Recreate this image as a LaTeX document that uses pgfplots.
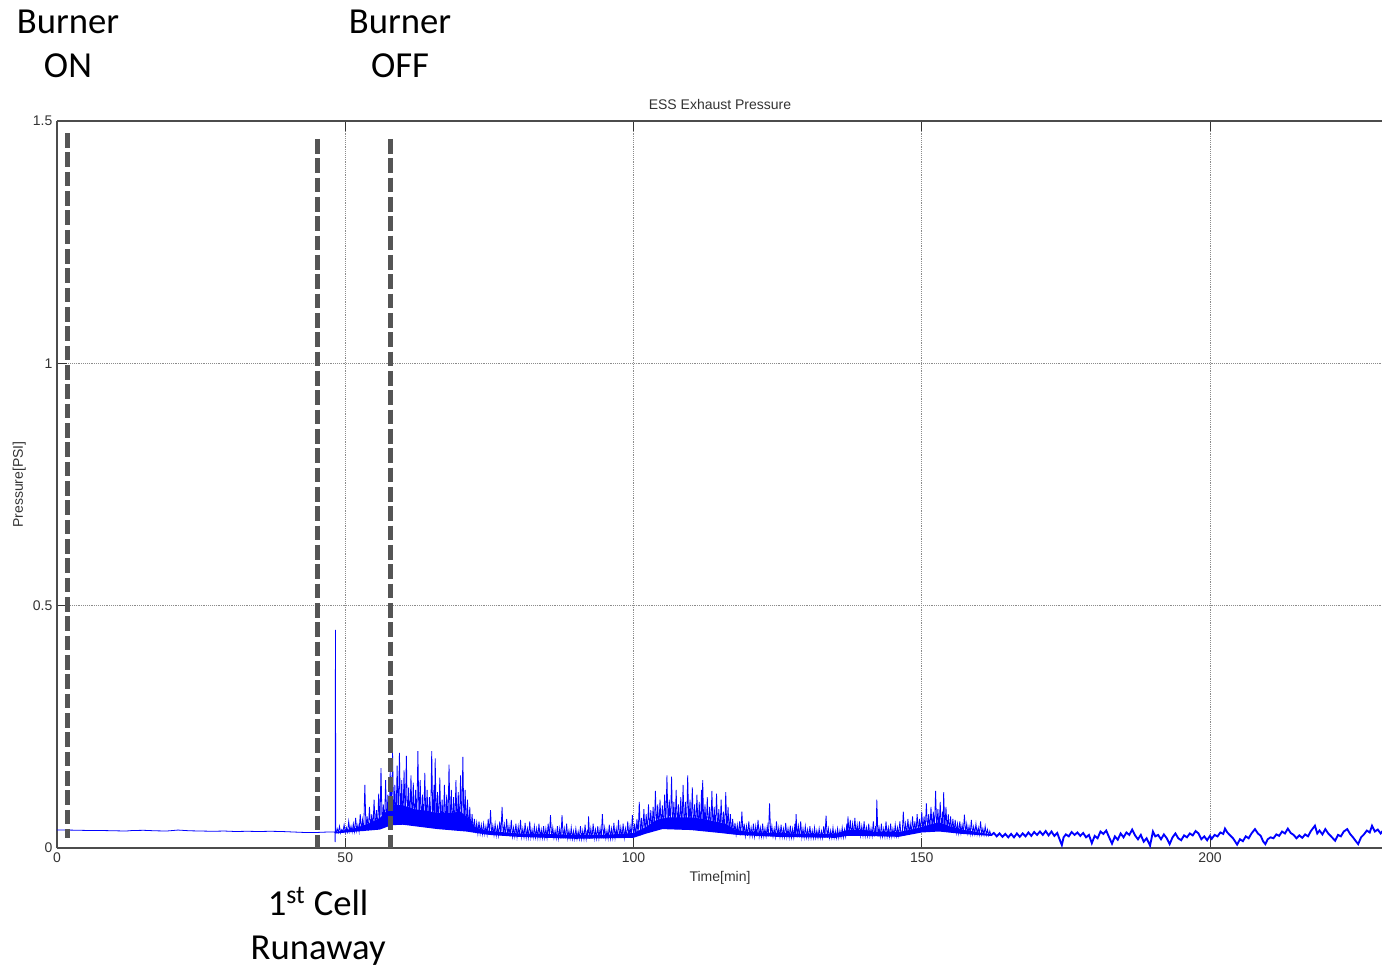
\documentclass[border=0pt]{standalone}
\usepackage{fontspec}
\setmainfont{Liberation Sans}
\newfontfamily\calibri{Carlito}
\usepackage{pgfplots}
\pgfplotsset{compat=1.18}
\definecolor{dashgray}{HTML}{555555}
\definecolor{labgray}{HTML}{333333}
\begin{document}
\begin{tikzpicture}
\useasboundingbox (-42.75pt,-90.75pt) rectangle (993.75pt,636pt);
\begin{axis}[
  scale only axis,
  width=994.47pt, height=545.25pt,
  xmin=0, xmax=230, ymin=0, ymax=1.5,
  xtick={0,50,100,150,200},
  ytick={0,0.5,1,1.5},
  axis x line*=box, axis y line*=left,
  axis line style={-, black!70, line width=0.8pt},
  tick align=inside,
  xtick pos=both, xticklabel pos=bottom,
  ytick pos=left,
  major tick length=7.5pt,
  tick style={black!80, line width=0.7pt},
  grid=major,
  grid style={densely dotted, black!45, line width=0.5pt},
  /pgf/number format/assume math mode=true,
  tick label style={font=\fontsize{10.5}{12}\selectfont, text=labgray},
  title={ESS Exhaust Pressure},
  title style={at={(axis description cs:0.5,1)}, anchor=center, yshift=6pt, font=\fontsize{10.5}{12}\selectfont, text=labgray},
  xlabel={Time[min]},
  xlabel style={at={(axis description cs:0.5,-0.0413)}, anchor=center, font=\fontsize{10.5}{12}\selectfont, text=labgray},
  ylabel={Pressure[PSI]},
  ylabel style={at={(axis description cs:-0.0285,0.5)}, anchor=center, rotate=0, font=\fontsize{10.5}{12}\selectfont, text=labgray},
  clip=false,
]
% baseline and first spike
\addplot[blue, line width=0.6pt] table {
x y
0 0.037
2 0.037
4 0.0365
6 0.036
8 0.036
10 0.0355
12 0.035
13 0.036
15 0.0365
17 0.0355
19 0.035
21 0.037
23 0.0355
25 0.035
27 0.0345
29 0.035
31 0.034
33 0.0345
35 0.034
37 0.0345
39 0.034
41 0.033
43 0.032
45 0.032
47 0.033
48.2 0.033
48.25 0.012
48.3 0.45
48.35 0.031
48.4 0.031
};
% dense core
\addplot[fill=blue, draw=none] coordinates {
(48.4,0.033)(50,0.037)(52,0.042)(54,0.05)(56,0.062)(57.5,0.08)(58.5,0.09)(60,0.088)(62,0.08)(64,0.077)(66,0.072)(68,0.072)(70,0.075)(71.5,0.06)(72.5,0.043)(74,0.037)(76,0.034)(80,0.03)(85,0.029)(90,0.027)(95,0.027)(100,0.031)(102,0.042)(104,0.058)(106,0.063)(108,0.063)(110,0.063)(112,0.06)(114,0.055)(116,0.05)(117.5,0.038)(120,0.033)(125,0.031)(130,0.029)(135,0.029)(137,0.037)(140,0.037)(142,0.033)(146,0.033)(149,0.04)(151,0.047)(153,0.053)(155,0.044)(157,0.038)(160,0.032)(162,0.028)
(162,0.025)(157,0.029)(153,0.034)(150,0.032)(146,0.023)(140,0.025)(137,0.025)(135,0.021)(125,0.023)(118,0.027)(115,0.031)(110,0.037)(105,0.039)(102,0.029)(100,0.021)(90,0.019)(80,0.023)(75,0.027)(71,0.034)(66,0.039)(60,0.048)(58,0.047)(56,0.038)(52,0.034)(48.4,0.03)
} -- cycle;
% noisy spikes
\addplot[blue, line width=0.6pt] table {
x y
48.4 0.031
48.6 0.040
48.8 0.032
49.0 0.045
49.2 0.031
49.4 0.038
49.6 0.033
49.8 0.048
50.0 0.032
50.2 0.042
50.4 0.033
50.6 0.055
50.8 0.034
51.0 0.045
51.2 0.033
51.4 0.05
51.6 0.034
51.8 0.062
52.0 0.035
52.2 0.048
52.4 0.034
52.6 0.07
52.8 0.036
53.0 0.058
53.2 0.035
53.4 0.13
53.6 0.037
53.8 0.065
54.0 0.036
54.2 0.085
54.4 0.038
54.6 0.07
54.8 0.037
55.0 0.1
55.2 0.039
55.4 0.078
55.6 0.04
55.8 0.112
56.0 0.04
56.2 0.165
56.4 0.042
56.6 0.09
56.8 0.043
57.0 0.14
57.2 0.045
57.4 0.11
57.6 0.046
57.8 0.16
58.0 0.048
58.2 0.2
58.4 0.05
58.6 0.13
58.8 0.05
59.0 0.17
59.2 0.052
59.4 0.196
59.6 0.05
59.8 0.14
60.0 0.05
60.2 0.16
60.4 0.049
60.6 0.19
60.8 0.048
61.0 0.125
61.2 0.048
61.4 0.15
61.6 0.047
61.8 0.135
62.0 0.046
62.2 0.12
62.4 0.046
62.6 0.2
62.8 0.045
63.0 0.14
63.2 0.044
63.4 0.11
63.6 0.044
63.8 0.155
64.0 0.043
64.2 0.12
64.4 0.042
64.6 0.105
64.8 0.042
65.0 0.2
65.2 0.041
65.4 0.13
65.5 0.06
65.6 0.185
65.8 0.041
66.0 0.115
66.2 0.04
66.4 0.145
66.6 0.04
66.8 0.1
67.0 0.039
67.2 0.13
67.4 0.039
67.6 0.11
67.8 0.038
68.0 0.172
68.2 0.038
68.4 0.12
68.6 0.037
68.8 0.105
69.0 0.037
69.2 0.14
69.4 0.036
69.6 0.115
69.8 0.036
70.0 0.15
70.2 0.036
70.4 0.188
70.6 0.035
70.8 0.12
71.0 0.035
71.2 0.1
71.4 0.034
71.6 0.085
71.8 0.033
72.0 0.07
72.2 0.032
72.4 0.06
72.6 0.031
72.8 0.052
73.0 0.03
73.2 0.055
73.4 0.03
73.6 0.048
73.8 0.029
74.0 0.05
74.2 0.029
74.4 0.045
74.6 0.028
74.8 0.06
75.0 0.028
75.2 0.078
75.4 0.027
75.6 0.046
75.8 0.027
76.0 0.05
76.2 0.026
76.4 0.044
76.6 0.026
76.8 0.055
77.0 0.026
77.2 0.085
77.4 0.025
77.6 0.048
77.8 0.025
78.0 0.06
78.2 0.025
78.4 0.045
78.6 0.024
78.8 0.058
79.0 0.024
79.2 0.042
79.4 0.024
79.6 0.05
79.8 0.023
80.0 0.044
80.2 0.023
80.4 0.058
80.6 0.023
80.8 0.04
81.0 0.023
81.2 0.052
81.4 0.022
81.6 0.04
81.8 0.022
82.0 0.055
82.2 0.022
82.4 0.038
82.6 0.022
82.8 0.045
83.0 0.022
83.2 0.04
83.4 0.021
83.6 0.05
83.8 0.021
84.0 0.038
84.2 0.021
84.4 0.045
84.6 0.021
84.8 0.04
85.0 0.021
85.2 0.05
85.4 0.021
85.6 0.068
85.8 0.021
86.0 0.042
86.2 0.021
86.4 0.036
86.6 0.02
86.8 0.045
87.0 0.02
87.2 0.04
87.4 0.02
87.6 0.068
87.8 0.02
88.0 0.04
88.2 0.02
88.4 0.05
88.6 0.02
88.8 0.036
89.0 0.02
89.2 0.042
89.4 0.019
89.6 0.035
89.8 0.019
90.0 0.04
90.2 0.019
90.4 0.034
90.6 0.019
90.8 0.045
91.0 0.019
91.2 0.036
91.4 0.019
91.6 0.048
91.8 0.019
92.0 0.038
92.1 0.02
92.2 0.065
92.4 0.019
92.6 0.04
92.8 0.02
93.0 0.05
93.2 0.02
93.4 0.038
93.6 0.02
93.8 0.045
94.0 0.02
94.2 0.04
94.4 0.02
94.6 0.07
94.8 0.02
95.0 0.042
95.2 0.02
95.4 0.036
95.6 0.02
95.8 0.048
96.0 0.02
96.2 0.04
96.4 0.021
96.6 0.052
96.8 0.021
97.0 0.04
97.2 0.021
97.4 0.058
97.6 0.021
97.8 0.042
98.0 0.021
98.2 0.05
98.4 0.021
98.6 0.04
98.8 0.021
99.0 0.055
99.2 0.022
99.4 0.045
99.6 0.022
99.8 0.068
100.0 0.022
100.2 0.05
100.4 0.024
100.6 0.06
100.8 0.025
101.0 0.095
101.2 0.026
101.4 0.062
101.6 0.028
101.8 0.08
102.0 0.03
102.2 0.07
102.4 0.032
102.6 0.09
102.8 0.034
103.0 0.078
103.2 0.035
103.4 0.085
103.6 0.036
103.8 0.118
104.0 0.037
104.2 0.09
104.4 0.038
104.6 0.1
104.8 0.039
105.0 0.088
105.2 0.04
105.4 0.11
105.6 0.04
105.8 0.15
106.0 0.04
106.2 0.1
106.4 0.04
106.6 0.147
106.8 0.04
107.0 0.095
107.2 0.04
107.4 0.12
107.6 0.039
107.8 0.09
108.0 0.039
108.2 0.105
108.4 0.039
108.6 0.13
108.8 0.038
109.0 0.095
109.2 0.038
109.4 0.15
109.6 0.038
109.8 0.1
110.0 0.038
110.2 0.125
110.4 0.037
110.6 0.09
110.8 0.037
111.0 0.11
111.2 0.036
111.4 0.095
111.6 0.036
111.8 0.12
111.9 0.05
112.0 0.14
112.2 0.035
112.4 0.09
112.6 0.035
112.8 0.105
113.0 0.034
113.2 0.085
113.4 0.034
113.6 0.118
113.8 0.033
114.0 0.085
114.2 0.033
114.4 0.112
114.6 0.032
114.8 0.08
115.0 0.032
115.2 0.1
115.4 0.031
115.6 0.075
115.8 0.031
116.0 0.115
116.2 0.03
116.4 0.085
116.6 0.03
116.8 0.07
117.0 0.029
117.2 0.06
117.4 0.028
117.6 0.052
117.8 0.028
118.0 0.048
118.2 0.027
118.4 0.055
118.6 0.026
118.8 0.075
119.0 0.026
119.2 0.05
119.4 0.025
119.6 0.045
119.8 0.025
120.0 0.055
120.2 0.025
120.4 0.042
120.6 0.025
120.8 0.05
121.0 0.024
121.2 0.045
121.4 0.024
121.6 0.058
121.8 0.024
122.0 0.042
122.2 0.024
122.4 0.05
122.6 0.024
122.8 0.04
123.0 0.024
123.2 0.045
123.4 0.024
123.6 0.092
123.8 0.024
124.0 0.045
124.2 0.024
124.4 0.04
124.6 0.023
124.8 0.055
125.0 0.023
125.2 0.042
125.4 0.023
125.6 0.048
125.8 0.023
126.0 0.04
126.2 0.023
126.4 0.052
126.6 0.023
126.8 0.04
127.0 0.022
127.2 0.046
127.4 0.022
127.6 0.04
127.8 0.022
128.0 0.05
128.1 0.025
128.2 0.07
128.4 0.022
128.6 0.045
128.8 0.022
129.0 0.055
129.2 0.022
129.4 0.04
129.6 0.022
129.8 0.045
130.0 0.022
130.2 0.038
130.4 0.021
130.6 0.045
130.8 0.021
131.0 0.036
131.2 0.021
131.4 0.042
131.6 0.021
131.8 0.036
132.0 0.021
132.2 0.04
132.4 0.021
132.6 0.035
132.8 0.021
133.0 0.045
133.2 0.021
133.4 0.067
133.6 0.021
133.8 0.04
134.0 0.021
134.2 0.036
134.4 0.021
134.6 0.042
134.8 0.021
135.0 0.035
135.2 0.021
135.4 0.04
135.6 0.021
135.8 0.036
136.0 0.022
136.2 0.042
136.4 0.022
136.6 0.038
136.8 0.024
137.0 0.05
137.1 0.03
137.2 0.065
137.4 0.026
137.6 0.058
137.8 0.026
138.0 0.05
138.2 0.027
138.4 0.062
138.6 0.027
138.8 0.048
139.0 0.027
139.2 0.055
139.4 0.026
139.6 0.045
139.8 0.026
140.0 0.055
140.2 0.025
140.4 0.042
140.6 0.025
140.8 0.05
141.0 0.025
141.2 0.04
141.4 0.025
141.6 0.055
141.8 0.024
142.0 0.045
142.1 0.03
142.2 0.1
142.4 0.024
142.6 0.042
142.8 0.024
143.0 0.05
143.2 0.024
143.4 0.04
143.6 0.024
143.8 0.055
144.0 0.024
144.2 0.042
144.4 0.024
144.6 0.05
144.8 0.024
145.0 0.04
145.2 0.025
145.4 0.048
145.6 0.025
145.8 0.042
146.0 0.026
146.2 0.055
146.4 0.026
146.6 0.027
146.8 0.075
147.0 0.028
147.2 0.05
147.4 0.028
147.6 0.06
147.8 0.029
148.0 0.05
148.2 0.03
148.4 0.065
148.6 0.03
148.8 0.055
149.0 0.031
149.2 0.07
149.4 0.032
149.6 0.06
149.8 0.033
150.0 0.075
150.2 0.034
150.4 0.065
150.6 0.035
150.8 0.092
151.0 0.035
151.2 0.07
151.4 0.036
151.6 0.085
151.8 0.036
152.0 0.075
152.2 0.036
152.4 0.118
152.6 0.036
152.8 0.08
153.0 0.036
153.2 0.095
153.4 0.035
153.6 0.075
153.7 0.04
153.8 0.115
154.0 0.035
154.2 0.085
154.4 0.034
154.6 0.07
154.8 0.033
155.0 0.065
155.2 0.033
155.4 0.06
155.6 0.032
155.8 0.058
156.0 0.032
156.2 0.05
156.4 0.031
156.6 0.055
156.8 0.031
157.0 0.048
157.2 0.03
157.4 0.069
157.6 0.03
157.8 0.05
158.0 0.03
158.2 0.045
158.4 0.029
158.6 0.058
158.8 0.029
159.0 0.044
159.2 0.029
159.4 0.05
159.6 0.028
159.8 0.042
160.0 0.028
160.2 0.055
160.4 0.028
160.6 0.04
160.8 0.027
161.0 0.045
161.2 0.027
161.4 0.038
161.6 0.026
161.8 0.035
162.0 0.026
};
% tail
\addplot[blue, line width=1.4pt] table {
x y
162.0 0.026
162.5 0.031
163.0 0.024
163.5 0.030
164.0 0.023
164.5 0.029
165.0 0.022
165.5 0.029
166.0 0.022
166.5 0.030
167.0 0.023
167.5 0.030
168.0 0.024
168.5 0.032
169.0 0.025
169.5 0.033
170.0 0.027
170.5 0.034
171.0 0.027
171.5 0.035
172.0 0.026
172.5 0.034
173.0 0.025
173.5 0.031
174.0 0.015
174.3 0.006
174.6 0.022
175.0 0.028
175.5 0.024
176.0 0.033
176.5 0.027
177.0 0.032
177.5 0.025
178.0 0.031
178.5 0.022
179.0 0.027
179.5 0.01
180.0 0.025
180.5 0.02
181.0 0.034
181.5 0.029
182.0 0.036
182.5 0.022
183.0 0.009
183.5 0.024
184.0 0.017
184.5 0.03
185.0 0.022
185.5 0.032
186.0 0.027
186.5 0.038
187.0 0.026
187.5 0.018
188.0 0.027
188.5 0.013
189.0 0.02
189.6 0.005
190.1 0.034
190.5 0.024
191.0 0.027
191.5 0.018
192.0 0.028
192.5 0.02
193.0 0.008
193.5 0.022
194.0 0.03
194.5 0.02
195.0 0.016
195.5 0.026
196.0 0.022
196.5 0.03
197.0 0.026
197.5 0.035
198.0 0.03
198.5 0.018
199.0 0.024
199.5 0.016
200.0 0.025
200.3 0.019
200.8 0.027
201.3 0.024
201.8 0.032
202.3 0.029
202.6 0.04
203.0 0.032
203.5 0.026
204.0 0.02
204.7 0.007
205.2 0.018
205.7 0.014
206.2 0.024
206.7 0.02
207.2 0.03
207.8 0.039
208.3 0.03
208.8 0.025
209.2 0.014
209.6 0.008
210.0 0.018
210.5 0.022
211.0 0.02
211.5 0.028
212.0 0.025
212.5 0.034
213.0 0.03
213.5 0.04
214.0 0.031
214.5 0.027
215.0 0.02
215.5 0.026
216.0 0.021
216.5 0.028
217.0 0.024
217.5 0.035
218.2 0.046
218.6 0.03
219.0 0.036
219.5 0.028
220.0 0.039
220.5 0.03
221.0 0.024
221.7 0.015
222.2 0.027
222.7 0.024
223.2 0.034
223.8 0.039
224.3 0.029
224.8 0.022
225.3 0.014
225.7 0.008
226.2 0.022
226.7 0.028
227.2 0.036
227.7 0.032
228.1 0.046
228.6 0.034
229.1 0.038
229.6 0.03
230.0 0.036
};
% event markers
\addplot[dashgray, line width=3.5pt, dash pattern=on 11pt off 3.5pt] coordinates {(1.85,1.475)(1.85,0.02)};
\addplot[dashgray, line width=3.5pt, dash pattern=on 11pt off 3.5pt] coordinates {(45.2,1.463)(45.2,0)};
\addplot[dashgray, line width=3.5pt, dash pattern=on 11pt off 3.5pt] coordinates {(57.9,1.463)(57.9,0)};
% annotations
\node[align=center, font=\calibri\fontsize{27.5}{33}\selectfont, inner sep=0pt] at (axis cs:1.9,1.659) {Burner\\ON};
\node[align=center, font=\calibri\fontsize{27.5}{33}\selectfont, inner sep=0pt] at (axis cs:59.5,1.659) {Burner\\OFF};
\node[align=center, font=\calibri\fontsize{27.5}{33}\selectfont, inner sep=0pt] at (axis cs:45.3,-0.162) {1\textsuperscript{st} Cell\\Runaway};
\end{axis}
\end{tikzpicture}
\end{document}
